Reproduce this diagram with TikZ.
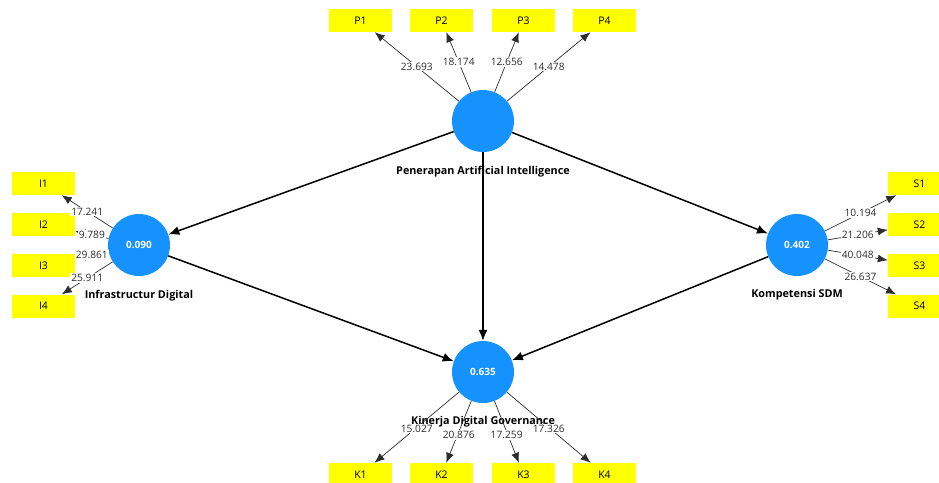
\documentclass[tikz,border=0pt]{standalone}
\usepackage{fontspec}
\setmainfont{Open Sans}
\usetikzlibrary{arrows.meta,positioning}
\definecolor{plsblue}{RGB}{22,146,255}
\definecolor{itemyellow}{RGB}{255,255,0}
\definecolor{valgray}{RGB}{45,45,45}

\begin{document}
\begin{tikzpicture}[x=1pt, y=-1pt,
  latent/.style={circle, fill=plsblue, minimum size=62pt, inner sep=0pt, text=white, font=\bfseries\fontsize{10}{12}\selectfont},
  item/.style={fill=itemyellow, minimum width=63pt, minimum height=23pt, inner sep=0pt, font=\fontsize{10.5}{12}\selectfont},
  lvname/.style={font=\bfseries\fontsize{10.8}{12}\selectfont, below=10pt},
  struct/.style={-{Latex[length=11pt,width=9pt]}, line width=1.5pt},
  loadarr/.style={-{Latex[length=10pt,width=8pt]}, line width=0.7pt, draw=valgray},
  val/.style={midway, fill=white, inner sep=1pt, text=valgray, font=\fontsize{10.2}{12}\selectfont}
]
\useasboundingbox (0,0) rectangle (939,482);
% latent variables
\node[latent] (pai) at (483,121) {};
\node[latent] (infra) at (139,245) {0.090};
\node[latent] (komp) at (797,245) {0.402};
\node[latent] (kin) at (483,372) {0.635};
\node[lvname] at (pai.south) {Penerapan Artificial Intelligence};
\node[lvname] at (infra.south) {Infrastructur Digital};
\node[lvname] at (komp.south) {Kompetensi SDM};
\node[lvname] at (kin.south) {Kinerja Digital Governance};
% indicators
\node[item] (p1) at (360.5,20.5) {P1};
\node[item] (p2) at (441.5,20.5) {P2};
\node[item] (p3) at (523.5,20.5) {P3};
\node[item] (p4) at (604.5,20.5) {P4};
\node[item] (i1) at (43.5,183.5) {I1};
\node[item] (i2) at (43.5,224.5) {I2};
\node[item] (i3) at (43.5,265.5) {I3};
\node[item] (i4) at (43.5,306) {I4};
\node[item] (s1) at (919.5,183.5) {S1};
\node[item] (s2) at (919.5,224.5) {S2};
\node[item] (s3) at (919.5,265.5) {S3};
\node[item] (s4) at (919.5,306) {S4};
\node[item] (k1) at (360.5,474.5) {K1};
\node[item] (k2) at (441.5,474.5) {K2};
\node[item] (k3) at (523.5,474.5) {K3};
\node[item] (k4) at (604.5,474.5) {K4};
% inner model
\draw[struct] (pai) -- (infra);
\draw[struct] (pai) -- (komp);
\draw[struct] (pai) -- (kin);
\draw[struct] (infra) -- (kin);
\draw[struct] (komp) -- (kin);
% outer model
\draw[loadarr] (pai) -- (p1) node[val] {23.693};
\draw[loadarr] (pai) -- (p2) node[val] {18.174};
\draw[loadarr] (pai) -- (p3) node[val] {12.656};
\draw[loadarr] (pai) -- (p4) node[val] {14.478};
\draw[loadarr] (infra) -- (i1) node[val] {17.241};
\draw[loadarr] (infra) -- (i2) node[val] {9.789};
\draw[loadarr] (infra) -- (i3) node[val] {29.861};
\draw[loadarr] (infra) -- (i4) node[val] {25.911};
\draw[loadarr] (komp) -- (s1) node[val] {10.194};
\draw[loadarr] (komp) -- (s2) node[val] {21.206};
\draw[loadarr] (komp) -- (s3) node[val] {40.048};
\draw[loadarr] (komp) -- (s4) node[val] {26.637};
\draw[loadarr] (kin) -- (k1) node[val, yshift=-1pt] {15.027};
\draw[loadarr] (kin) -- (k2) node[val, yshift=-3pt] {20.876};
\draw[loadarr] (kin) -- (k3) node[val, yshift=-3pt] {17.259};
\draw[loadarr] (kin) -- (k4) node[val, yshift=-1pt] {17.326};
\end{tikzpicture}
\end{document}
